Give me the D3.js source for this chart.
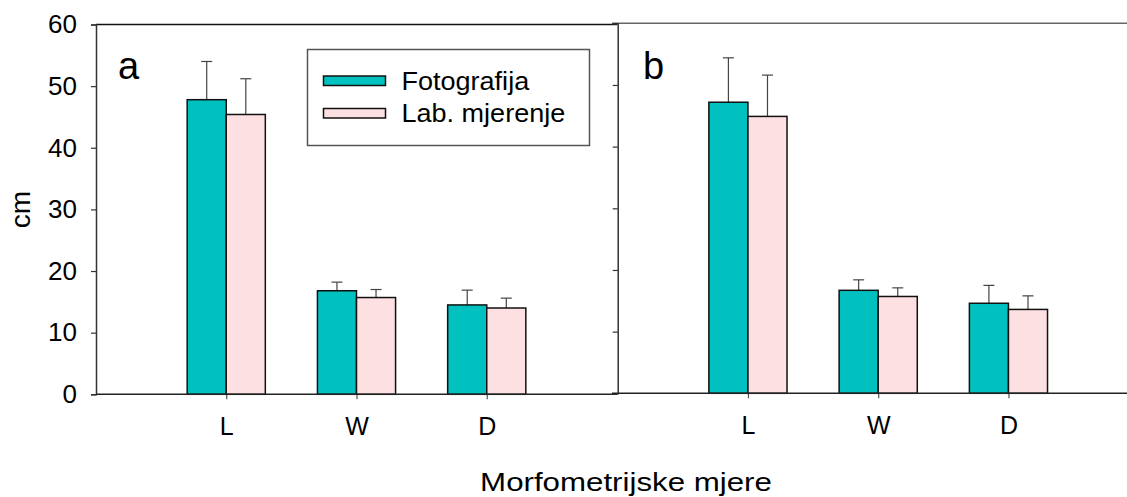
<!DOCTYPE html>
<html>
<head>
    <meta charset="UTF-8">
    <title>Morfometrijske mjere</title>
    <style>
        body { margin: 0; background: #fff; }
        svg text { font-family: "Liberation Sans", Arial, sans-serif; fill: #000; }
    </style>
</head>
<body>
    <svg></svg>
    <script src="https://d3js.org/d3.v7.min.js"></script>
    <script>
        let width = 1127, height = 497;

        // data
        let categories = ["L", "W", "D"];
        let seriesNames = ["Fotografija", "Lab. mjerenje"];
        let yTicks = [0, 10, 20, 30, 40, 50, 60];

        let fotoA = [47.8, 16.8, 14.5];
        let fotoErrA = [6.2, 1.4, 2.4];
        let labA = [45.4, 15.7, 14.0];
        let labErrA = [5.8, 1.3, 1.6];

        let fotoB = [47.2, 16.7, 14.6];
        let fotoErrB = [7.2, 1.7, 2.9];
        let labB = [44.9, 15.7, 13.6];
        let labErrB = [6.7, 1.4, 2.2];

        let colors = ["#00c0c0", "#fde0e2"];

        let svg = d3.select("svg")
            .attr("width", width)
            .attr("height", height);

        function drawPanel(opts) {
            let g = svg.append("g");
            let x = d3.scaleLinear().domain([0, 4]).range([opts.x0, opts.x1]);
            let y = d3.scaleLinear().domain([0, 60]).range([opts.y0, opts.y1]);
            let slot = x(1) - x(0);
            let bw = slot * 0.3;

            // top frame line
            g.append("line")
                .attr("x1", opts.topStart).attr("x2", opts.topEnd)
                .attr("y1", y(60)).attr("y2", y(60))
                .attr("stroke", opts.topColor).attr("stroke-width", 1.5);

            // y axis
            let yAxis = g.append("g")
                .attr("transform", "translate(" + opts.x0 + ",0)")
                .call(d3.axisLeft(y).tickValues(yTicks).tickSize(5).tickPadding(14)
                    .tickFormat(opts.showLabels ? d3.format("d") : ""));
            yAxis.select(".domain").attr("stroke", "#333").attr("stroke-width", 1.5);
            yAxis.selectAll(".tick line").attr("stroke", "#333").attr("stroke-width", 1.2);
            yAxis.selectAll(".tick text").style("font-size", "26px");

            let groups = [
                { vals: opts.foto, errs: opts.fotoErr, off: -bw, color: colors[0] },
                { vals: opts.lab, errs: opts.labErr, off: 0, color: colors[1] }
            ];

            groups.forEach(s => {
                let bars = g.append("g");
                // error bars (upper only)
                bars.selectAll("line.err")
                    .data(s.vals)
                    .enter().append("line")
                    .attr("x1", (d, i) => x(i + 1) + s.off + bw / 2)
                    .attr("x2", (d, i) => x(i + 1) + s.off + bw / 2)
                    .attr("y1", d => y(d))
                    .attr("y2", (d, i) => y(d + s.errs[i]))
                    .attr("stroke", "#444").attr("stroke-width", 1.2);
                bars.selectAll("line.cap")
                    .data(s.vals)
                    .enter().append("line")
                    .attr("x1", (d, i) => x(i + 1) + s.off + bw / 2 - 5.5)
                    .attr("x2", (d, i) => x(i + 1) + s.off + bw / 2 + 5.5)
                    .attr("y1", (d, i) => y(d + s.errs[i]))
                    .attr("y2", (d, i) => y(d + s.errs[i]))
                    .attr("stroke", "#444").attr("stroke-width", 1.2);
                bars.selectAll("rect")
                    .data(s.vals)
                    .enter().append("rect")
                    .attr("x", (d, i) => x(i + 1) + s.off)
                    .attr("y", d => y(d))
                    .attr("width", bw)
                    .attr("height", d => y(0) - y(d))
                    .attr("fill", s.color)
                    .attr("stroke", "#111").attr("stroke-width", 1.5);
            });

            // x axis
            let xAxis = g.append("g")
                .attr("transform", "translate(0," + opts.y0 + ")")
                .call(d3.axisBottom(x).tickValues([1, 2, 3]).tickSize(5).tickPadding(18)
                    .tickFormat(d => categories[d - 1]));
            xAxis.select(".domain").remove();
            xAxis.append("line")
                .attr("x1", opts.axisStart).attr("x2", opts.axisEnd)
                .attr("stroke", "#222").attr("stroke-width", 1.5);
            xAxis.selectAll(".tick line").attr("stroke", "#555").attr("stroke-width", 1.2);
            xAxis.selectAll(".tick text").style("font-size", "25px");

            // panel letter
            g.append("text")
                .attr("x", opts.letterX).attr("y", 79)
                .style("font-size", "38px")
                .text(opts.letter);
            return g;
        }

        drawPanel({
            x0: 96, x1: 617, y0: 394.3, y1: 24.5,
            topStart: 96, topEnd: 617, topColor: "#111",
            axisStart: 96, axisEnd: 617,
            showLabels: true, letter: "a", letterX: 118,
            foto: fotoA, fotoErr: fotoErrA, lab: labA, labErr: labErrA
        });

        drawPanel({
            x0: 617.7, x1: 1138.7, y0: 393.3, y1: 23.3,
            topStart: 612, topEnd: 1127, topColor: "#666",
            axisStart: 612, axisEnd: 1127,
            showLabels: false, letter: "b", letterX: 643,
            foto: fotoB, fotoErr: fotoErrB, lab: labB, labErr: labErrB
        });

        // legend in panel a
        let legend = svg.append("g");
        legend.append("rect")
            .attr("x", 307.5).attr("y", 49.5)
            .attr("width", 282).attr("height", 96)
            .attr("fill", "#fff").attr("stroke", "#555").attr("stroke-width", 1.5);
        seriesNames.forEach((name, i) => {
            legend.append("rect")
                .attr("x", 323.5).attr("y", 76 + i * 32.5)
                .attr("width", 62).attr("height", 9.5)
                .attr("fill", colors[i]).attr("stroke", "#111").attr("stroke-width", 1.5);
            legend.append("text")
                .attr("transform", "translate(401.5," + (90 + i * 32) + ") scale(1.06,1)")
                .style("font-size", "25.5px")
                .text(name);
        });

        // axis titles
        svg.append("text")
            .attr("transform", "translate(30,209.5) rotate(-90)")
            .attr("text-anchor", "middle")
            .style("font-size", "28px")
            .text("cm");

        svg.append("text")
            .attr("transform", "translate(626,491) scale(1.18,1)")
            .attr("text-anchor", "middle")
            .style("font-size", "26.5px")
            .text("Morfometrijske mjere");
    </script>
</body>
</html>
